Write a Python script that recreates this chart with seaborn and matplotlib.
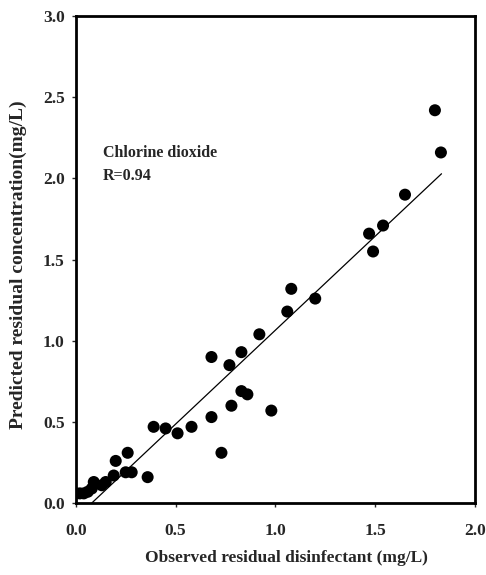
import matplotlib
matplotlib.use("Agg")
import matplotlib.pyplot as plt
import seaborn as sns
import numpy as np
import pandas as pd

observed = [0.00, 0.02, 0.04, 0.06, 0.08, 0.09, 0.13, 0.15, 0.19, 0.20, 0.25, 0.26,
            0.28, 0.36, 0.39, 0.45, 0.51, 0.58, 0.68, 0.68, 0.73, 0.77, 0.78, 0.83,
            0.83, 0.86, 0.92, 0.98, 1.06, 1.08, 1.20, 1.47, 1.49, 1.54, 1.65, 1.80, 1.83]
predicted = [0.06, 0.06, 0.06, 0.07, 0.09, 0.13, 0.11, 0.13, 0.17, 0.26, 0.19, 0.31,
             0.19, 0.16, 0.47, 0.46, 0.43, 0.47, 0.53, 0.90, 0.31, 0.85, 0.60, 0.93,
             0.69, 0.67, 1.04, 0.57, 1.18, 1.32, 1.26, 1.66, 1.55, 1.71, 1.90, 2.42, 2.16]

fit_slope = 1.157
fit_intercept = -0.092
fit_x_range = [0.08, 1.833]

x_ticks = [0.0, 0.5, 1.0, 1.5, 2.0]
y_ticks = [0.0, 0.5, 1.0, 1.5, 2.0, 2.5, 3.0]

sns.set_style("ticks")
plt.rcParams['font.family'] = ['Liberation Serif', 'DejaVu Serif']
plt.rcParams['font.weight'] = 'bold'

df = pd.DataFrame({"obs": observed, "pred": predicted})
fit_x = np.array(fit_x_range)
fit_df = pd.DataFrame({"x": fit_x, "y": fit_slope * fit_x + fit_intercept})

fig = plt.figure(figsize=(4.86, 5.75), dpi=100)
ax = fig.add_axes([0.156, 0.125, 0.821, 0.847])

sns.lineplot(data=fit_df, x="x", y="y", ax=ax, color="black", linewidth=0.9)
sns.scatterplot(data=df, x="obs", y="pred", ax=ax, color="black", s=75,
                edgecolor="none", zorder=3)

ax.set_xlim(0, 2.0)
ax.set_ylim(0, 3.0)
ax.set_xticks(x_ticks)
ax.set_yticks(y_ticks)
ax.set_xticklabels([f"{t:.1f}" for t in x_ticks], fontsize=12.5, fontweight="bold")
ax.set_yticklabels([f"{t:.1f}" for t in y_ticks], fontsize=12.5, fontweight="bold")
ax.tick_params(axis="both", direction="out", length=3, width=1)
ax.tick_params(axis="x", pad=11)
ax.tick_params(axis="y", pad=5)

ax.set_xlabel("Observed residual disinfectant (mg/L)", fontsize=12.5,
              fontweight="bold", va="center")
ax.xaxis.set_label_coords(0.529, -0.113)
ax.set_ylabel("Predicted residual concentration(mg/L)", fontsize=14,
              fontweight="bold", va="center")
ax.yaxis.set_label_coords(-0.143, 0.489)

for s in ax.spines.values():
    s.set_visible(True)
    s.set_linewidth(2)
    s.set_color("black")

ax.text(0.135, 2.157, "Chlorine dioxide", fontsize=11.5, fontweight="bold", va="center")
ax.text(0.135, 2.015, "R=0.94", fontsize=11.5, fontweight="bold", va="center")

fig.savefig("out.png", dpi=100)
